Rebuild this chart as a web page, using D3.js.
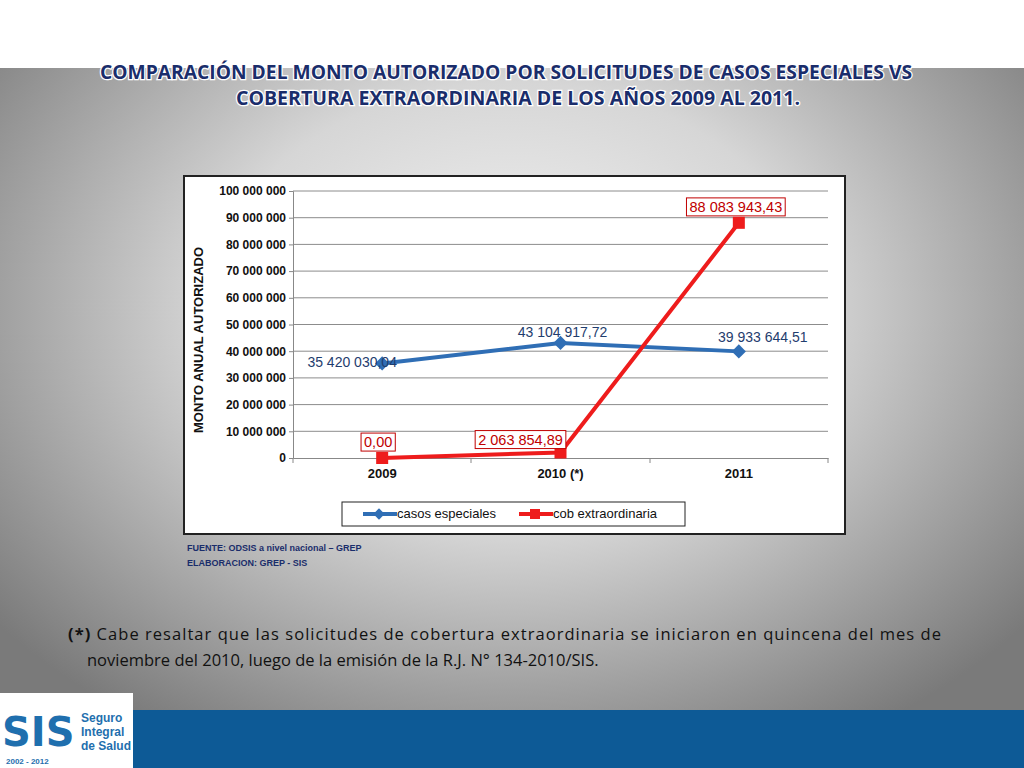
<!DOCTYPE html>
<html>
<head>
<meta charset="utf-8">
<script src="https://cdn.jsdelivr.net/npm/d3@7"></script>
<style>
  body { margin: 0; }
  svg { display: block; font-family: "Liberation Sans Narrow", "Liberation Sans", Arial, sans-serif; }
</style>
</head>
<body>
<div id="chart"></div>
<script>
'use strict';

// Data
const years = ['2009', '2010 (*)', '2011'];
const casosEspeciales = [35420030.04, 43104917.72, 39933644.51];
const cobExtraordinaria = [0, 2063854.89, 88083943.43];
const casosLabels = ['35 420 030,04', '43 104 917,72', '39 933 644,51'];
const cobLabels = ['0,00', '2 063 854,89', '88 083 943,43'];
const yTicks = [0, 10e6, 20e6, 30e6, 40e6, 50e6, 60e6, 70e6, 80e6, 90e6, 100e6];

const W = 1024, H = 768;
const svg = d3.select('#chart').append('svg').attr('width', W).attr('height', H);
const defs = svg.append('defs');

// Background
const bg = defs.append('radialGradient').attr('id', 'bg')
    .attr('cx', '50%').attr('cy', '40%').attr('r', '65%');
bg.append('stop').attr('offset', '0%').attr('stop-color', '#f4f4f4');
bg.append('stop').attr('offset', '45%').attr('stop-color', '#d6d6d6');
bg.append('stop').attr('offset', '100%').attr('stop-color', '#7a7a7a');
svg.append('rect').attr('width', W).attr('height', H).attr('fill', 'url(#bg)');
svg.append('rect').attr('width', W).attr('height', 68).attr('fill', '#ffffff');
svg.append('rect').attr('y', 710).attr('width', W).attr('height', 58).attr('fill', '#0d5a96');

// Logo
const logo = svg.append('g').attr('font-family', 'Liberation Sans');
logo.append('rect').attr('x', 0).attr('y', 693).attr('width', 133).attr('height', 75).attr('fill', '#fff');
logo.append('text').attr('x', 2).attr('y', 746).attr('font-size', 40).attr('font-weight', 900)
    .attr('fill', '#1f6fae').attr('font-family', 'DejaVu Sans').text('SIS');
['Seguro', 'Integral', 'de Salud'].forEach((t, i) => {
    logo.append('text').attr('x', 81).attr('y', 722 + i * 14).attr('font-size', 12)
        .attr('font-weight', 700).attr('fill', '#1f6fae').text(t);
});
logo.append('text').attr('x', 6).attr('y', 764).attr('font-size', 8).attr('font-weight', 700)
    .attr('fill', '#1f6fae').text('2002 - 2012');

// Title
const title = svg.append('text').attr('text-anchor', 'middle').attr('font-size', 19)
    .attr('font-weight', 700).attr('fill', '#1a2d6b').attr('stroke', '#ffffff')
    .attr('stroke-width', 2.5).attr('paint-order', 'stroke').attr('font-family', 'Open Sans');
title.append('tspan').attr('x', 506).attr('y', 79)
    .attr('textLength', 812).attr('lengthAdjust', 'spacingAndGlyphs')
    .text('COMPARACIÓN DEL MONTO AUTORIZADO POR SOLICITUDES DE CASOS ESPECIALES VS');
title.append('tspan').attr('x', 518).attr('y', 105)
    .attr('textLength', 564).attr('lengthAdjust', 'spacingAndGlyphs')
    .text('COBERTURA EXTRAORDINARIA DE LOS AÑOS 2009 AL 2011.');

// Chart frame
svg.append('rect').attr('x', 184).attr('y', 176).attr('width', 661).attr('height', 358)
    .attr('fill', '#fff').attr('stroke', '#222').attr('stroke-width', 2);

const x = d3.scaleBand().domain(years).range([293, 828]);
const y = d3.scaleLinear().domain([0, 100e6]).range([458, 191]);
const fmt = v => d3.format(',')(v).replace(/,/g, ' ');

// Grid
svg.append('g').selectAll('line').data(yTicks.slice(1)).join('line')
    .attr('x1', 293).attr('x2', 828).attr('y1', d => y(d)).attr('y2', d => y(d))
    .attr('stroke', '#8c8c8c').attr('stroke-width', 1);

// Axes
const yAxis = svg.append('g').attr('transform', 'translate(293,0)')
    .call(d3.axisLeft(y).tickValues(yTicks).tickFormat(fmt).tickSize(4));
yAxis.select('.domain').attr('stroke', '#888');
yAxis.selectAll('text').attr('font-size', 12).attr('font-weight', 700).attr('fill', '#111');
yAxis.selectAll('line').attr('stroke', '#888');

const xAxis = svg.append('g').attr('transform', 'translate(0,458)')
    .call(d3.axisBottom(x).tickSizeOuter(0).tickSize(0));
xAxis.select('.domain').attr('stroke', '#888');
xAxis.selectAll('text').attr('font-size', 13).attr('font-weight', 700).attr('fill', '#111').attr('dy', '1.3em');
svg.append('g').selectAll('line').data([293, 471, 650, 828]).join('line')
    .attr('x1', d => d).attr('x2', d => d).attr('y1', 458).attr('y2', 463).attr('stroke', '#888');

svg.append('text').attr('transform', 'translate(203,340) rotate(-90)').attr('text-anchor', 'middle')
    .attr('font-family', 'Liberation Sans')
    .attr('font-size', 13).attr('font-weight', 700).attr('fill', '#111').text('MONTO ANUAL  AUTORIZADO');

const cx = d => x(d) + x.bandwidth() / 2;
const line = d3.line().x(d => cx(d[0])).y(d => y(d[1]));
const blue = '#2f6eb5', red = '#ee1c1c';

// Series
svg.append('path').datum(years.map((d, i) => [d, casosEspeciales[i]]))
    .attr('d', line).attr('fill', 'none').attr('stroke', blue).attr('stroke-width', 4);
svg.append('path').datum(years.map((d, i) => [d, cobExtraordinaria[i]]))
    .attr('d', line).attr('fill', 'none').attr('stroke', red).attr('stroke-width', 4);

svg.append('g').selectAll('path').data(years).join('path')
    .attr('transform', (d, i) => `translate(${cx(d)},${y(casosEspeciales[i])}) rotate(45)`)
    .attr('d', 'M-5,-5H5V5H-5Z').attr('fill', blue);
svg.append('g').selectAll('rect').data(years).join('rect')
    .attr('x', d => cx(d) - 6).attr('y', (d, i) => y(cobExtraordinaria[i]) - 6)
    .attr('width', 12).attr('height', 12).attr('fill', red);

// Labels
const blueLabelPos = [[-30, 4], [2, -6], [24, -9]];
svg.append('g').selectAll('text').data(years).join('text')
    .attr('x', (d, i) => cx(d) + blueLabelPos[i][0]).attr('y', (d, i) => y(casosEspeciales[i]) + blueLabelPos[i][1])
    .attr('text-anchor', 'middle').attr('font-size', 14).attr('fill', '#1f3d6e').text((d, i) => casosLabels[i]);

const redLabelPos = [[-4, -16], [-40, -13], [-3, -16]];
const rl = svg.append('g').selectAll('g').data(years).join('g')
    .attr('transform', (d, i) => `translate(${cx(d) + redLabelPos[i][0]},${y(cobExtraordinaria[i]) + redLabelPos[i][1]})`);
rl.append('text').attr('text-anchor', 'middle').attr('font-size', 14.5).attr('fill', '#c00000')
    .attr('dy', '0.35em').text((d, i) => cobLabels[i]);
rl.each(function () {
    const g = d3.select(this);
    const b = g.select('text').node().getBBox();
    g.insert('rect', 'text').attr('x', b.x - 3).attr('y', b.y - 1)
        .attr('width', b.width + 6).attr('height', b.height + 2)
        .attr('fill', '#fff').attr('stroke', '#c00000').attr('stroke-width', 1);
});

// Legend
svg.append('rect').attr('x', 342).attr('y', 502).attr('width', 343).attr('height', 24)
    .attr('fill', '#fff').attr('stroke', '#222');
[[blue, 'casos especiales', 379], [red, 'cob extraordinaria', 535]].forEach(([c, t, lx], i) => {
    svg.append('line').attr('x1', lx - 16).attr('x2', lx + 18).attr('y1', 514).attr('y2', 514)
        .attr('stroke', c).attr('stroke-width', 4);
    if (i === 0) svg.append('path').attr('transform', `translate(${lx},514) rotate(45)`).attr('d', 'M-4,-4H4V4H-4Z').attr('fill', c);
    else svg.append('rect').attr('x', lx - 5).attr('y', 509).attr('width', 10).attr('height', 10).attr('fill', c);
    svg.append('text').attr('x', lx + 18).attr('y', 518).attr('font-size', 13).attr('fill', '#111').text(t);
});

// Source
svg.append('text').attr('x', 187).attr('y', 551).attr('font-size', 9).attr('font-weight', 700)
    .attr('font-family', 'Liberation Sans')
    .attr('fill', '#1a2d6b').text('FUENTE: ODSIS a nivel nacional – GREP');
svg.append('text').attr('x', 187).attr('y', 566).attr('font-size', 9).attr('font-weight', 700)
    .attr('font-family', 'Liberation Sans')
    .attr('fill', '#1a2d6b').text('ELABORACION: GREP - SIS');

// Note
const note = svg.append('text').attr('font-size', 16.5).attr('fill', '#111').attr('font-family', 'Open Sans');
const l1 = note.append('tspan').attr('x', 68).attr('y', 640)
    .attr('textLength', 873).attr('lengthAdjust', 'spacing');
l1.append('tspan').attr('font-weight', 700).text('(*)');
l1.append('tspan').text(' Cabe resaltar que las solicitudes de cobertura extraordinaria se iniciaron en quincena del mes de');
note.append('tspan').attr('x', 87).attr('y', 666)
    .text('noviembre del 2010, luego de la emisión de la R.J. N° 134-2010/SIS.');
</script>
</body>
</html>
